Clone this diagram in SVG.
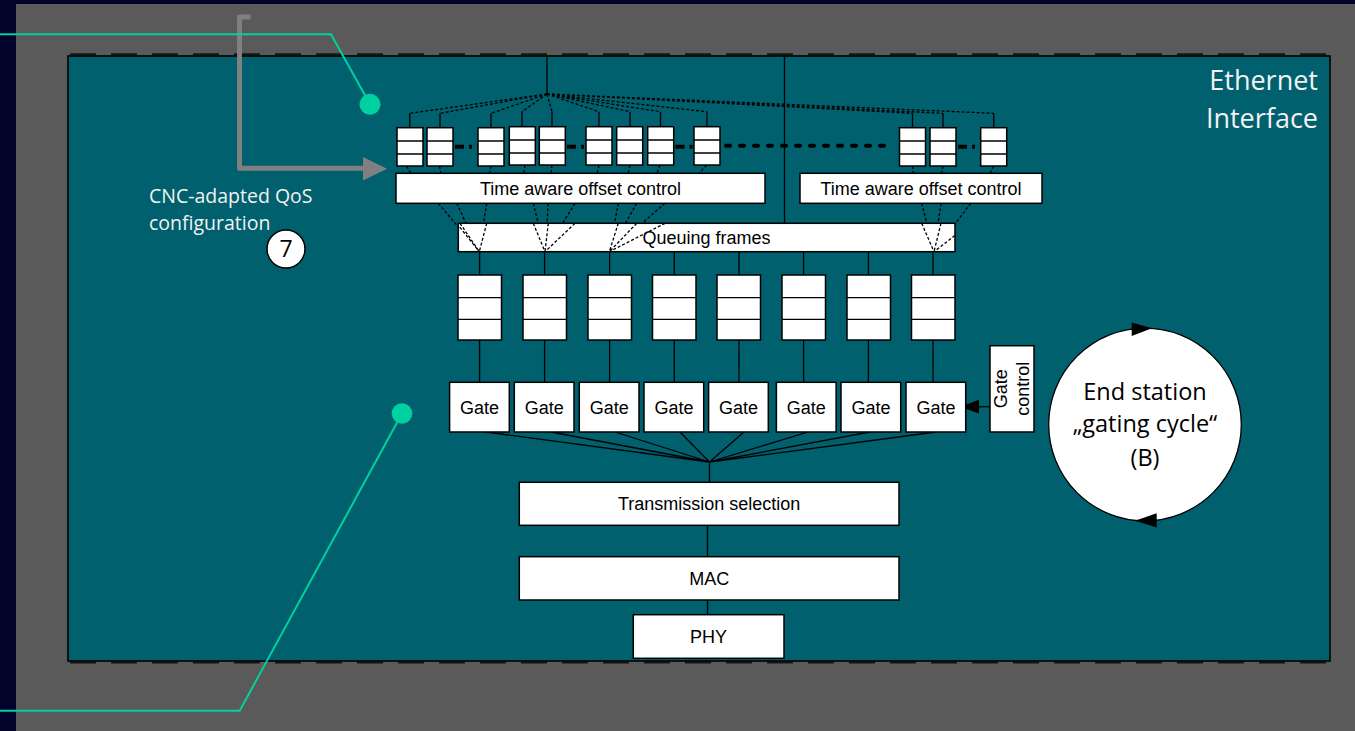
<svg xmlns="http://www.w3.org/2000/svg" xmlns:xlink="http://www.w3.org/1999/xlink" width="1355" height="731" viewBox="0 0 1355 731">
<style>
.box{fill:#fff;stroke:#000;stroke-width:1.5}
.ln{stroke:#000;stroke-width:1.3;fill:none}
.dl{stroke:#000;stroke-width:1.3;stroke-dasharray:3 2;fill:none}
.thick{stroke:#000;stroke-width:4;fill:none}
.t{font-family:"Liberation Sans",Arial,sans-serif;font-size:18px;fill:#000;text-anchor:middle}
.w{font-family:"Open Sans",sans-serif;fill:#f2f2f2}
.g{stroke:#00d1a0;stroke-width:2;fill:none}
</style>
<defs>
<g id="sq"><rect class="box" x="0" y="0" width="26" height="38.3"/><path class="ln" d="M0 13.3H26M0 26.3H26"/></g>
<g id="bq"><rect class="box" x="0" y="0" width="43.5" height="65"/><path class="ln" d="M0 22.7H43.5M0 44.3H43.5"/></g>
<clipPath id="qc"><rect x="458.3" y="223.3" width="496.7" height="28.4"/></clipPath>
</defs>
<rect x="0" y="0" width="1355" height="731" fill="#02022a"/>
<rect x="16" y="4" width="1339" height="727" fill="#5a5a5a"/>
<g id="ethernet-interface">
<path d="M70 54.3H1330M70 662.5H1330" fill="none" stroke="#151515" stroke-width="2" stroke-dasharray="26 15"/>
<rect x="68" y="56" width="1262" height="605" fill="#00606e" stroke="#000" stroke-width="1.6"/>
<text class="w" x="1318" y="90" font-size="27" text-anchor="end">Ethernet</text>
<text class="w" x="1318" y="128.3" font-size="27" text-anchor="end">Interface</text>
</g>
<g id="connectors">
<path class="ln" d="M547 56V94M784.5 56V223.3"/>
<path class="ln" d="M409.7 113.3V127.7M440 113.3V127.7M491 113.3V127.7M522 111.7V126.7M552 111.7V126.7M599 111.7V126.7M630 111.7V126.7M660.5 111.7V126.7M707 111.7V126.7M912.5 113.3V127.7M943 113.3V127.7M993.7 113.3V127.7"/>
<path class="dl" d="M547 94L409.7 113.3M547 94L440 113.3M547 94L491 113.3M547 94L522 111.7M547 94L552 111.7M547 94L599 111.7M547 94L630 111.7M547 94L660.5 111.7M547 94L707 111.7M547 94L912.5 113.3M547 94L943 113.3M547 94L993.7 113.3"/>
<path class="thick" d="M455 146.7H478M567 146.7H586M675.5 146.7H694M958 146.7H980.7" stroke-dasharray="9 5 3 5"/>
<path class="thick" d="M726 145.7H885" stroke-width="5" stroke-linecap="round" stroke-dasharray="4 10"/>
<path class="dl" d="M406.5 166L411 173.3M439.5 166L441 173.3M491 166L489.5 173.3M525 165L523.5 173.3M552 165L551 173.3M599 165L597 173.3M630 165L628 173.3M660 165L657 173.3M706.7 165L699 173.3M912.5 166L913.5 173.3M943 166L941.5 173.3M993.7 166L990 173.3"/>
<path class="dl" d="M438.3 203.3L479.3 251.7M456.7 203.3L479.3 251.7M486.7 203.3L479.3 251.7M533.3 203.3L545 251.7M548.3 203.3L545 251.7M575 203.3L545 251.7M618.3 203.3L609.3 251.7M636.7 203.3L609.3 251.7M665 203.3L609.3 251.7M921.7 203.3L934 251.7M941 203.3L934 251.7M970.7 203.3L934 251.7"/>
<path class="ln" d="M479.6 251.7V275M544.6 251.7V275M609.6 251.7V275M674.3 251.7V275M739 251.7V275M803.6 251.7V275M868.4 251.7V275M933 251.7V275"/>
<path class="ln" d="M479.6 340V382.3M544.6 340V382.3M609.6 340V382.3M674.3 340V382.3M739 340V382.3M803.6 340V382.3M868.4 340V382.3M933 340V382.3"/>
<path class="ln" d="M486 432L709.5 462M551 432L709.5 462M615 432L709.5 462M680 432L709.5 462M744 432L709.5 462M808 432L709.5 462M870 432L709.5 462M936 432L709.5 462M709.5 462V482.3"/>
<path class="ln" d="M707.5 525.3V556.7M707.5 600V614.7"/>
<path class="ln" d="M978 406.7H990"/>
<polygon points="960,406.7 979,399.8 979,413.6" fill="#000"/>
</g>
<g id="small-queues">
<use xlink:href="#sq" x="397" y="127.7"/>
<use xlink:href="#sq" x="427" y="127.7"/>
<use xlink:href="#sq" x="478" y="127.7"/>
<use xlink:href="#sq" x="509.3" y="126.7"/>
<use xlink:href="#sq" x="539.3" y="126.7"/>
<use xlink:href="#sq" x="586" y="126.7"/>
<use xlink:href="#sq" x="616.7" y="126.7"/>
<use xlink:href="#sq" x="647.7" y="126.7"/>
<use xlink:href="#sq" x="694" y="126.7"/>
<use xlink:href="#sq" x="899.5" y="127.7"/>
<use xlink:href="#sq" x="930" y="127.7"/>
<use xlink:href="#sq" x="980.7" y="127.7"/>
</g>
<g id="time-aware-1"><rect class="box" x="396" y="173.3" width="369" height="30"/><text class="t" x="580.5" y="194.8">Time aware offset control</text></g>
<g id="time-aware-2"><rect class="box" x="800" y="173.3" width="242" height="30"/><text class="t" x="921" y="194.8">Time aware offset control</text></g>
<g id="queuing-frames"><rect class="box" x="458.3" y="223.3" width="496.7" height="28.4"/><text class="t" x="706.6" y="244">Queuing frames</text></g>
<path class="dl" d="M456.7 223.3L479.3 251.7M486.7 223.3L479.3 251.7M460 223.3 L479.3 251.7M533.3 223.3L545 251.7M548.3 223.3L545 251.7M575 223.3L545 251.7M618.3 223.3L609.3 251.7M636.7 223.3L609.3 251.7M665 223.3L609.3 251.7M921.7 223.3L934 251.7M941 223.3L934 251.7M970.7 223.3L934 251.7" clip-path="url(#qc)"/>
<g id="big-queues">
<use xlink:href="#bq" x="458" y="275"/>
<use xlink:href="#bq" x="523" y="275"/>
<use xlink:href="#bq" x="588" y="275"/>
<use xlink:href="#bq" x="652.5" y="275"/>
<use xlink:href="#bq" x="717" y="275"/>
<use xlink:href="#bq" x="782" y="275"/>
<use xlink:href="#bq" x="847" y="275"/>
<use xlink:href="#bq" x="911.5" y="275"/>
</g>
<g id="gate-1"><rect class="box" x="449.6" y="382.3" width="59.7" height="49.7"/><text class="t" x="479.5" y="413.5">Gate</text></g>
<g id="gate-2"><rect class="box" x="514.3" y="382.3" width="59.7" height="49.7"/><text class="t" x="544.2" y="413.5">Gate</text></g>
<g id="gate-3"><rect class="box" x="579.3" y="382.3" width="59.7" height="49.7"/><text class="t" x="609.2" y="413.5">Gate</text></g>
<g id="gate-4"><rect class="box" x="644" y="382.3" width="59.7" height="49.7"/><text class="t" x="673.9" y="413.5">Gate</text></g>
<g id="gate-5"><rect class="box" x="708.6" y="382.3" width="59.7" height="49.7"/><text class="t" x="738.5" y="413.5">Gate</text></g>
<g id="gate-6"><rect class="box" x="776.4" y="382.3" width="59.7" height="49.7"/><text class="t" x="806.3" y="413.5">Gate</text></g>
<g id="gate-7"><rect class="box" x="841" y="382.3" width="59.7" height="49.7"/><text class="t" x="870.9" y="413.5">Gate</text></g>
<g id="gate-8"><rect class="box" x="906" y="382.3" width="59.7" height="49.7"/><text class="t" x="935.9" y="413.5">Gate</text></g>
<g id="gate-control"><rect class="box" x="990" y="345.7" width="44" height="86.3"/>
<g transform="translate(1007,388.8) rotate(-90)"><text class="t" x="0" y="0" font-size="17.5">Gate</text><text class="t" x="0" y="22" font-size="17.5">control</text></g></g>
<g id="transmission-selection"><rect class="box" x="519.3" y="482.3" width="379.7" height="43"/><text class="t" x="709.2" y="510.3">Transmission selection</text></g>
<g id="mac"><rect class="box" x="519.3" y="556.7" width="379.7" height="43.3"/><text class="t" x="709.2" y="584.8">MAC</text></g>
<g id="phy"><rect class="box" x="633.3" y="614.7" width="150.7" height="43.6"/><text class="t" x="708.6" y="643">PHY</text></g>
<g id="gating-cycle">
<circle cx="1145" cy="424.5" r="96.3" fill="#fff" stroke="#000" stroke-width="1.3"/>
<polygon points="1152,328.2 1131.7,322.5 1131.7,336" fill="#000"/>
<polygon points="1135,520.8 1156.7,513.3 1156.7,527.5" fill="#000"/>
<text class="w" x="1145" y="400" font-size="23.5" text-anchor="middle" style="fill:#000">End station</text>
<text class="w" x="1145" y="432" font-size="23.5" text-anchor="middle" style="fill:#000">„gating cycle“</text>
<text class="w" x="1145" y="466" font-size="23.5" text-anchor="middle" style="fill:#000">(B)</text>
</g>
<g id="cnc-config">
<path d="M250.5 17H239.5V168.3H365" fill="none" stroke="#808080" stroke-width="5" stroke-linejoin="round"/>
<polygon points="363,157 387,168.8 363,180.5" fill="#808080"/>
<text class="w" x="149" y="202.7" font-size="19.5">CNC-adapted QoS</text>
<text class="w" x="149" y="230" font-size="19.5">configuration</text>
</g>
<g id="step-7"><circle cx="286" cy="249" r="19" fill="#fff" stroke="#000" stroke-width="1.5"/><text x="286" y="257" font-family="Open Sans, sans-serif" font-size="23" text-anchor="middle" fill="#000">7</text></g>
<g id="callouts">
<path class="g" d="M0 34.3H331L370 104.3"/>
<circle cx="370" cy="104.3" r="10.5" fill="#00d1a0"/>
<path class="g" d="M0 710.7H239.7L402 413.5"/>
<circle cx="402" cy="413.5" r="10.3" fill="#00d1a0"/>
</g>
</svg>
